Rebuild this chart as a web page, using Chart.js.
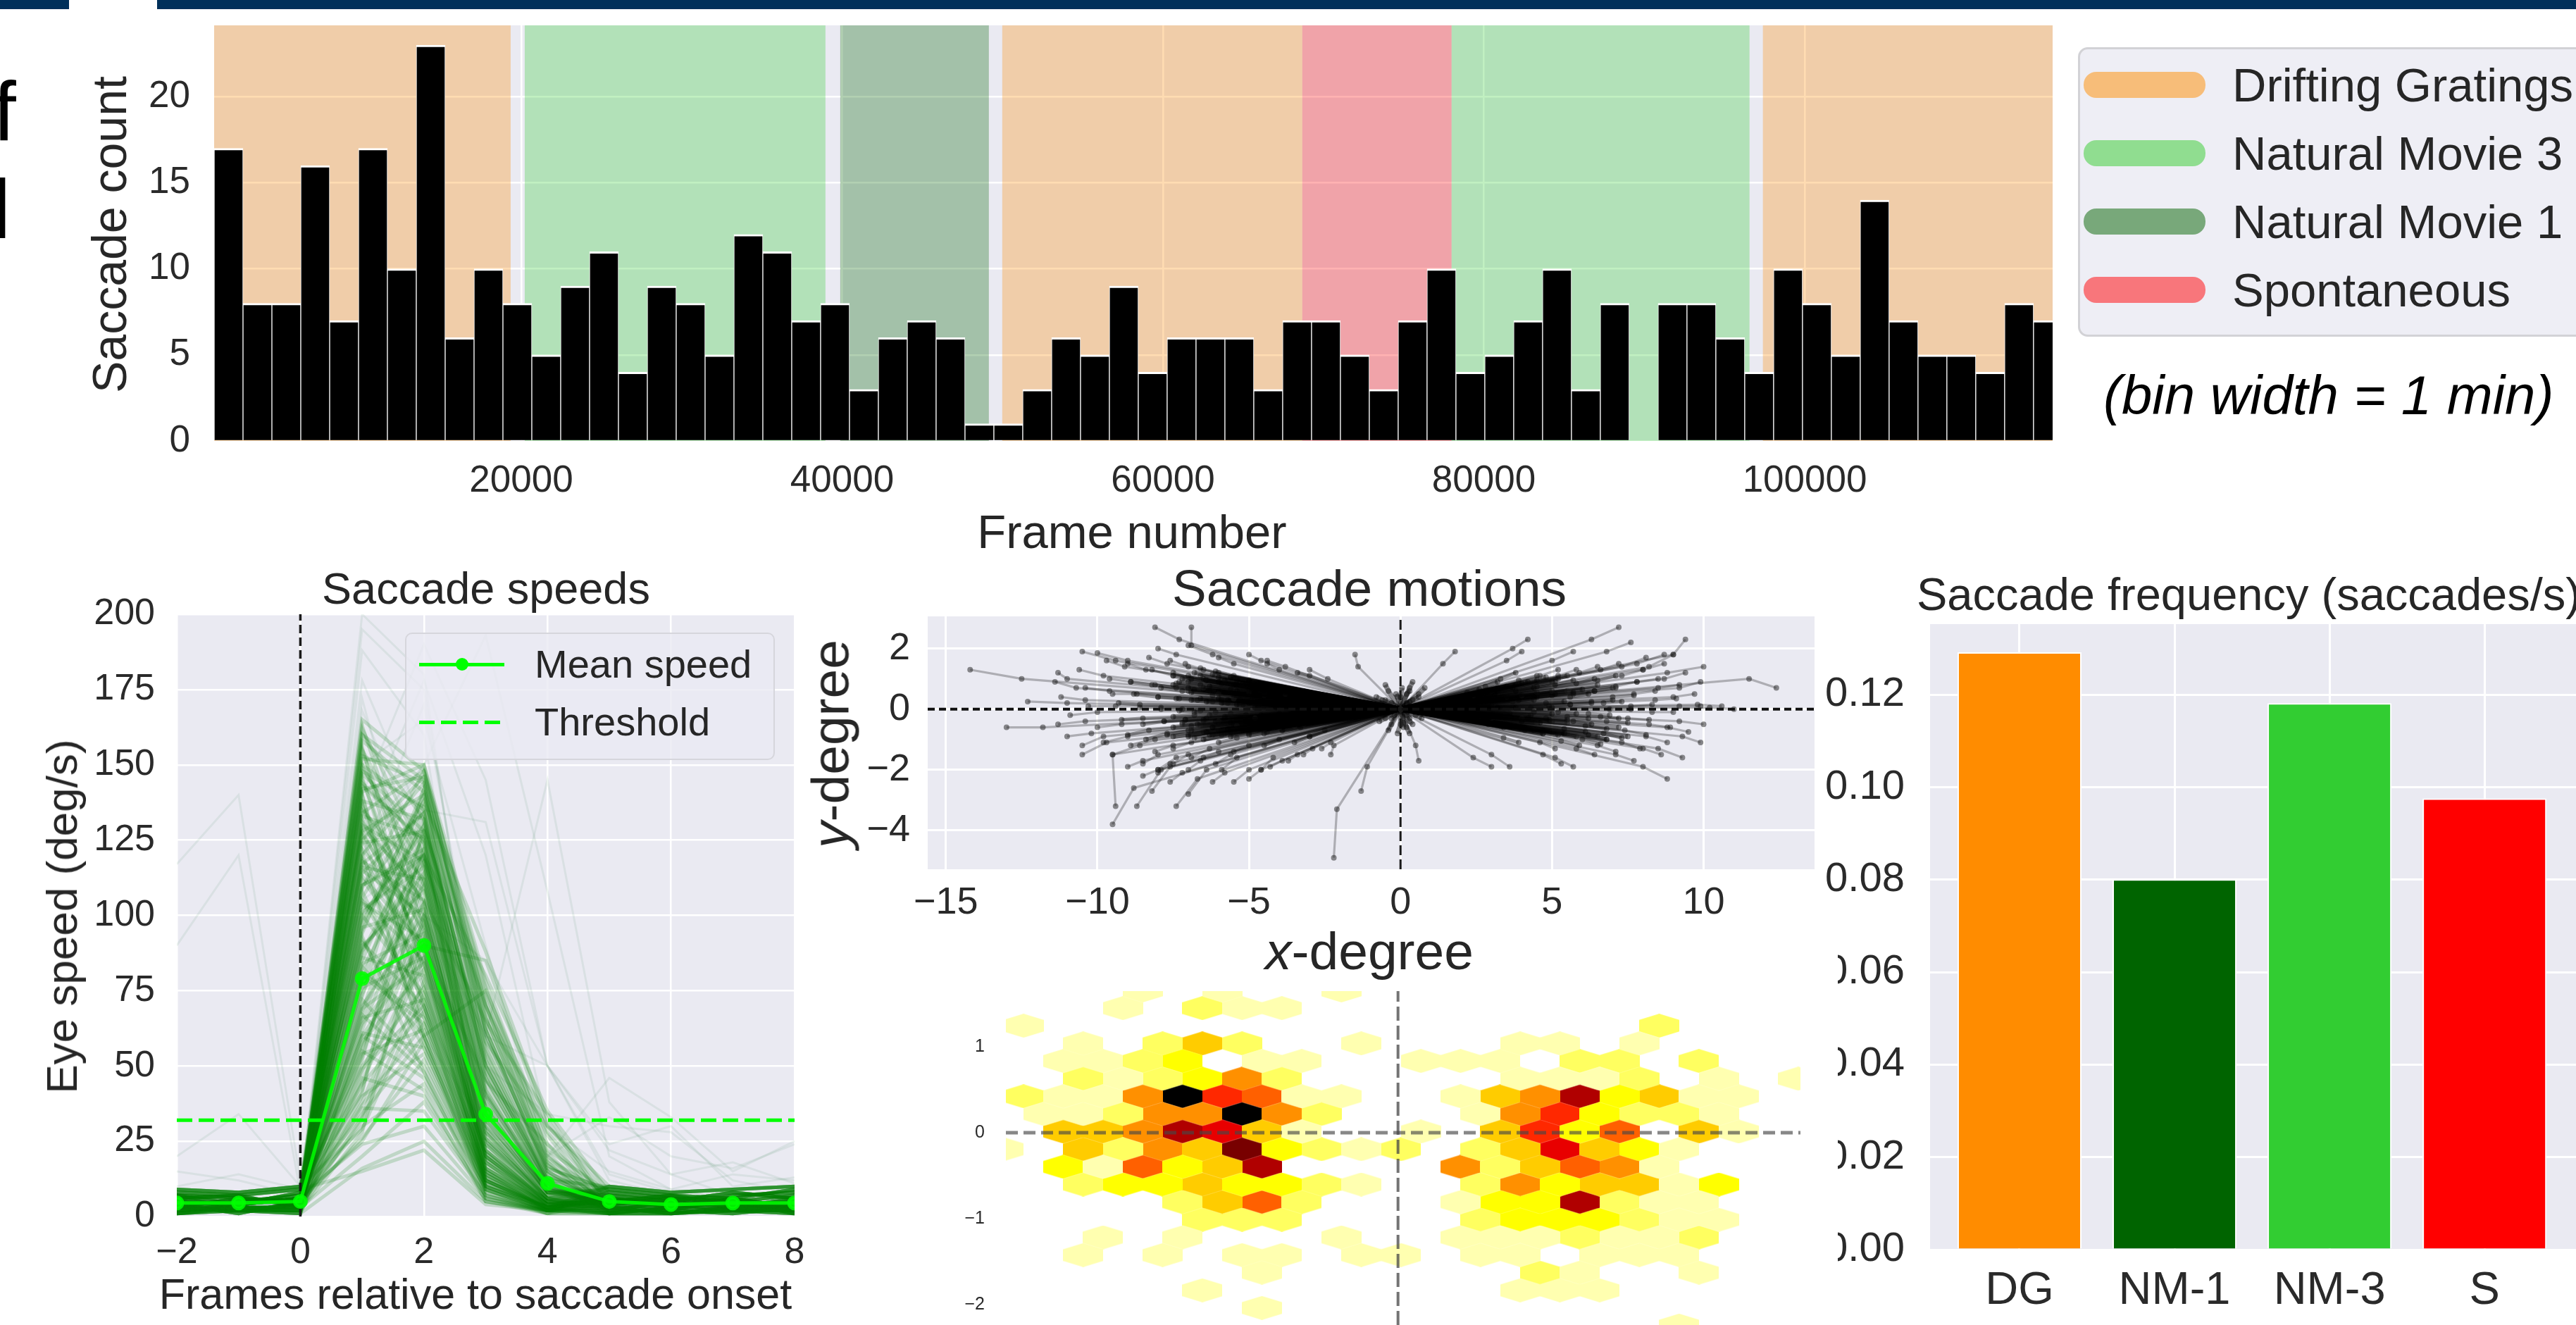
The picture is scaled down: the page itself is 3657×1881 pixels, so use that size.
<!DOCTYPE html>
<html><head><meta charset="utf-8">
<script src="https://cdn.jsdelivr.net/npm/chart.js@4"></script>
<style>
html,body{margin:0;padding:0;background:#fff;width:3657px;height:1881px;overflow:hidden;font-family:'Liberation Sans',Arial,sans-serif;color:#262626}
canvas{position:absolute;display:block}
.t{position:absolute;white-space:nowrap;line-height:1;transform:translate(-50%,-50%);z-index:5}
.r{transform:translate(-50%,-50%) rotate(-90deg)}
.l{position:absolute;white-space:nowrap;line-height:1;z-index:6}
.b{position:absolute;z-index:4}
</style></head><body>
<div class="b" style="left:0;top:0;width:98px;height:13px;background:#00305a"></div>
<div class="b" style="left:223px;top:0;width:3434px;height:13px;background:#00305a"></div>
<div class="l" style="left:-10px;top:99px;font-size:118px;color:#000">f</div>
<div class="l" style="left:-11px;top:238px;font-size:118px;color:#000">l</div>

<div class="t r" style="left:155px;top:333px;font-size:68px">Saccade count</div>
<div class="t" style="left:1607px;top:754px;font-size:67px">Frame number</div>
<div class="b" style="left:2950px;top:67px;width:740px;height:411px;background:#eeeef5;border:3px solid #d2d2d6;border-radius:14px;box-sizing:border-box"></div>
<div class="b" style="left:2958px;top:102px;width:173px;height:37px;border-radius:18px;background:#f7bd79;z-index:5"></div>
<div class="b" style="left:2958px;top:199px;width:173px;height:37px;border-radius:18px;background:#90dd90;z-index:5"></div>
<div class="b" style="left:2958px;top:296px;width:173px;height:37px;border-radius:18px;background:#78a87a;z-index:5"></div>
<div class="b" style="left:2958px;top:393px;width:173px;height:37px;border-radius:18px;background:#f8767b;z-index:5"></div>
<div class="l" style="left:3169px;top:87px;font-size:67px">Drifting Gratings</div>
<div class="l" style="left:3169px;top:184px;font-size:67px">Natural Movie 3</div>
<div class="l" style="left:3169px;top:281px;font-size:67px">Natural Movie 1</div>
<div class="l" style="left:3169px;top:378px;font-size:67px">Spontaneous</div>
<div class="l" style="left:2986px;top:522px;font-size:78px;font-style:italic;color:#000">(bin width = 1 min)</div>

<div class="t" style="left:690px;top:835px;font-size:63px">Saccade speeds</div>
<div class="t r" style="left:88px;top:1301px;font-size:62px">Eye speed (deg/s)</div>
<div class="t" style="left:675px;top:1837px;font-size:61px">Frames relative to saccade onset</div>
<div class="b" style="left:575px;top:898px;width:525px;height:181px;background:rgba(234,234,242,.8);border:2px solid #d6d6dc;border-radius:10px;box-sizing:border-box;z-index:5"></div>
<div class="b" style="left:595px;top:941px;width:121px;height:5px;background:#00ff00;z-index:6"></div>
<div class="b" style="left:647px;top:934px;width:18px;height:18px;border-radius:50%;background:#00ff00;z-index:6"></div>
<div class="b" style="left:595px;top:1023px;width:121px;height:5px;background:repeating-linear-gradient(90deg,#00ff00 0 22px,transparent 22px 31px);z-index:6"></div>
<div class="l" style="left:759px;top:915px;font-size:56px">Mean speed</div>
<div class="l" style="left:759px;top:997px;font-size:56px">Threshold</div>

<div class="t" style="left:1944px;top:834px;font-size:73px">Saccade motions</div>
<div class="t r" style="left:1179px;top:1056px;font-size:75px"><i>y</i>-degree</div>
<div class="t" style="left:1944px;top:1350px;font-size:75px"><i>x</i>-degree</div>

<div class="l" style="left:2721px;top:811px;font-size:65px">Saccade frequency (saccades/s)</div>
<div class="b" style="left:2556px;top:1340px;width:53px;height:541px;background:#fff;z-index:3"></div>

<canvas id="hist" style="left:170px;top:0" width="2820" height="730"></canvas>
<canvas id="speed" style="left:110px;top:840px" width="1060" height="970"></canvas>
<canvas id="motion" style="left:1200px;top:845px" width="1400" height="475"></canvas>
<canvas id="hex" style="left:1340px;top:1380px" width="1216" height="501"></canvas>
<canvas id="freq" style="left:2560px;top:860px;z-index:2" width="1097" height="1021"></canvas>

<script>
// ---------- data ----------
const binCounts=[17,8,8,16,7,17,10,23,6,10,8,5,9,11,4,9,8,5,12,11,7,8,3,6,7,6,1,1,3,6,5,9,4,6,6,6,3,7,7,5,3,7,10,4,5,7,10,3,8,0,8,8,6,4,10,8,5,14,7,5,5,4,8,7];
const firstBinEdge=860, binWidth=1800;
const histXTicks=[20000,40000,60000,80000,100000];
const bandStarts=[860,20219,39885,49982,68683,77989,97392];
const bandEnds=[19341,38963,49148,68683,77989,96558,116000];
const bandColors=['rgba(255,140,0,.3)','rgba(50,205,50,.3)','rgba(0,100,0,.3)','rgba(255,140,0,.3)','rgba(255,0,0,.3)','rgba(50,205,50,.3)','rgba(255,140,0,.3)'];

const frames=[-2,-1,0,1,2,3,4,5,6,7,8];
const meanSpeed=[4.5,4.5,5,79,90,34,11,5,4,4.5,4.5];
const thresholdSpeed=32;
// frames 1,2,3,4 of individual saccades (estimated from the fan of traces)
const burstSpeeds=[[165,148,62,14],[162,120,40,9],[158,141,55,12],[155,96,22,5],[152,150,70,20],[150,110,30,8],[148,136,48,11],[146,82,18,4],[144,124,38,9],[142,146,66,18],[140,70,14,4],[138,132,52,13],[136,104,26,6],[134,148,74,22],[132,88,20,5],[130,118,36,8],[128,140,58,15],[126,76,16,4],[124,128,44,10],[122,98,24,6],[120,144,68,17],[118,60,12,3],[116,112,32,7],[114,134,50,12],[112,84,19,5],[110,122,42,9],[108,66,13,3],[106,138,60,16],[104,92,22,5],[102,116,34,8],[100,74,16,4],[98,130,54,13],[96,102,25,6],[94,142,72,19],[92,56,11,3],[90,108,30,7],[88,126,46,10],[86,80,18,4],[84,94,22,5],[82,120,40,9],[80,64,12,3],[78,136,62,15],[76,86,20,5],[74,110,32,7],[72,50,10,3],[70,100,26,6],[68,128,50,12],[66,72,15,4],[64,90,21,5],[62,114,36,8],[60,46,9,2],[58,82,18,4],[56,104,28,6],[54,62,12,3],[52,124,48,11],[50,76,16,4],[48,96,24,5],[46,40,8,2],[44,68,14,3],[42,112,34,8],[40,54,10,3],[38,86,20,4],[36,35,7,2],[34,60,12,3],[32,78,17,4],[30,44,9,2],[28,100,28,6],[26,52,10,3],[24,30,6,2],[20,38,7,2],[16,25,5,2],[15,22,4,2],
[163,100,28,6],[160,132,46,10],[156,78,15,3],[153,144,64,16],[149,116,34,8],[145,92,21,5],[141,150,78,24],[137,68,13,3],[133,126,42,9],[129,108,29,6],[125,146,70,18],[121,58,11,3],[117,134,56,14],[113,90,20,4],[109,148,76,21],[105,72,14,3],[101,120,38,8],[97,140,62,15],[93,48,9,2],[89,114,32,7],[85,132,52,12],[81,66,13,3],[77,104,26,6],[73,142,66,17],[69,84,19,4],[65,122,41,9],[61,56,10,2],[57,98,24,5],[53,118,36,8],[49,70,15,3],[45,88,20,4],[41,130,50,11],[37,64,12,3],[33,92,22,5],[29,74,16,3],[25,58,11,2],
[128,90,85,30],[110,120,80,35],[95,138,88,32],[140,60,75,28],[118,105,65,34],[88,118,58,30],[100,128,70,27],[60,90,45,24],[155,118,12,2],[147,128,10,2],[135,112,9,2],[127,95,8,1],[115,100,10,2],[105,85,7,1],[91,70,6,1],[83,60,6,2],[67,48,5,1],[55,42,5,2],[160,145,15,2],[150,135,18,3],[143,125,14,2],[131,105,12,2],[119,88,9,1]];
// frames -2,-1,0 and frames 5,6,7,8
const quietBefore=[[3,2,4],[5,4,6],[2,3,2],[7,6,5],[4,5,7],[6,3,3],[1,2,1],[8,7,9],[3,6,4],[5,2,2],[9,8,10],[2,4,6],[6,7,3],[4,1,5],[1,3,3],[7,4,8]];
const quietAfter=[[4,3,5,2],[2,5,3,6],[6,4,2,4],[3,2,6,3],[8,6,5,7],[1,3,2,1],[5,7,4,5],[3,1,3,4],[7,5,8,6],[2,2,1,3],[9,7,6,9],[4,6,3,2],[6,3,7,8],[1,1,2,2],[5,4,5,1],[10,8,9,10]];
// rare outlying traces, all frames
const oddSpeedTraces=[[90,120,8,40,60,30,10,4,5,3,4],[117,140,12,60,80,40,12,6,4,5,3],[20,34,10,50,70,25,8,5,4,3,2],[15,12,7,70,90,30,6,3,4,2,5],[4,3,5,120,150,60,20,46,33,15,25],[5,4,6,100,120,50,34,30,28,12,8],[3,5,4,90,110,45,20,33,20,16,24],[6,5,4,70,100,85,50,24,30,10,13],[4,4,5,130,100,60,50,22,14,18,11],[10,14,9,110,130,70,30,15,9,14,12],[5,4,6,178,130,60,15,6,4,3,5],[3,6,4,172,95,25,6,4,3,5,2],[4,5,3,168,120,45,11,5,3,4,6],[6,3,5,195,175,50,12,6,4,3,2],[2,4,6,200,180,40,8,3,5,4,3],[7,5,4,188,160,35,9,5,6,2,4],[3,4,5,120,170,60,10,4,3,5,6],[4,6,5,150,165,90,20,7,5,3,4],[5,3,6,130,178,120,30,9,6,4,5],[4,2,5,140,190,145,50,12,7,5,3],[6,5,3,125,150,193,108,20,9,6,4],[3,5,6,110,135,131,50,14,8,4,3],[5,6,4,105,120,60,145,38,14,7,5]];

const originX=[0],originY=[0];
// each row: point reached, then final point of a saccade path starting near the origin (degrees)
const motionLeft=[[-12.5,1,-14.2,1.3],[-11.8,-.6,-13,-.6],[-11,.2,-12.3,.25],[-10.4,-.4,-11.3,-.5],[-9.4,1.6,-10.5,1.9],[-9,1.6,-10,1.85],[-7.3,2.3,-8.1,2.7],[-6.9,2.1,-6.9,2.7],[-6.2,1.8,-7,2.1],[-2.1,-3.3,-2.2,-4.9],[-8.8,-2.6,-9.5,-3.8],[-9.5,-1.5,-9.4,-3.2],[-7.9,-2,-8.7,-3.2],[-6.7,-2.3,-7.4,-3.2],[-5,-2,-5.5,-2.4],[-7.6,-1.9,-8.2,-2.7],[-6.4,-2,-7,-2.8],[-9.7,-1.1,-10.5,-1.5],[-9.8,-.9,-10.5,-1.2],[-8.6,-1.2,-9.5,-1.5],[-1.1,-1.9,-1.3,-2.7],[-7.4,-1.6,-8,-2],[-5.4,-1.6,-5.9,-2],[-4.2,-1.6,-4.6,-2],[-2.2,-1.2,-2.3,-1.5],[-1.4,1.4,-1.5,1.8],[-3.8,1.4,-4.4,1.6],[-2.4,1,-3,1.3],
[-8,-2,-8.5,-2.2],[-7.2,-2.1,-7.6,-2.4],[-5.8,-2.1,-6.2,-2.4],[-4.6,-2,-5,-2.3],[-3.9,-1.7,-4.3,-1.9],[-3.4,-1.5,-3.7,-1.7],[-2.9,-1.3,-3.2,-1.5],[-2.3,-1.1,-2.6,-1.3],[-8.5,-1.7,-9,-1.9],[-4.6,1.6,-5,1.8],[-4,1.3,-4.4,1.5],[-7.4,1.8,-8,2],[-5.5,1.5,-6,1.7],[-3,1.1,-3.4,1.2],
[-11,1,-11.3,1.2],[-10.7,.7,-11.4,.9],[-10.4,.3,-11.2,.4],[-10,-.1,-10.9,-.2],[-10.2,-.8,-11,-.9],[-9.8,1.1,-10.6,1.3],[-9.6,.6,-10.4,.7],[-9.4,.1,-10.3,.1],[-9.2,-.5,-10,-.6],[-9,-.9,-9.8,-1.1],[-9.1,1.4,-9.7,1.6],[-8.9,.9,-9.6,1],[-8.7,.5,-9.5,.5],[-8.6,.15,-9.3,.2],[-8.5,-.3,-9.2,-.35],[-8.3,-.7,-9,-.85],[-8.1,-1,-8.9,-1.2],[-8.4,1.3,-9,1.5],[-8.2,.8,-8.9,.9],[-8,.4,-8.8,.5],[-7.9,.05,-8.6,.05],[-7.8,-.4,-8.5,-.5],[-7.7,-.8,-8.4,-1],[-7.5,-1.2,-8.1,-1.4],[-7.7,1.5,-8.3,1.7],[-7.5,1.1,-8.2,1.3],[-7.4,.7,-8.1,.8],[-7.3,.35,-8,.4],[-7.2,0,-7.9,0],[-7.1,-.35,-7.8,-.4],[-7,-.7,-7.7,-.85],[-6.9,-1.1,-7.5,-1.3],[-7,1.4,-7.6,1.6],[-6.9,1,-7.5,1.2],[-6.8,.65,-7.5,.8],[-6.7,.3,-7.4,.35],[-6.6,-.05,-7.3,-.05],[-6.5,-.4,-7.2,-.45],[-6.4,-.75,-7,-.9],[-6.3,-1.3,-6.9,-1.6],[-6.5,1.3,-7.1,1.5],[-6.4,.95,-7,1.1],[-6.3,.6,-7,.7],[-6.2,.25,-6.9,.3],[-6.1,-.1,-6.8,-.1],[-6,-.45,-6.7,-.5],[-5.9,-.85,-6.5,-1],[-6,1.2,-6.6,1.35],[-5.9,.85,-6.5,1],[-5.8,.55,-6.5,.65],[-5.7,.2,-6.4,.25],[-5.6,-.15,-6.3,-.2],[-5.5,-.5,-6.2,-.6],[-5.4,-.95,-6,-1.1],[-5.5,1.1,-6.1,1.25],[-5.4,.8,-6,.9],[-5.3,.5,-6,.6],[-5.2,.15,-5.9,.2],[-5.1,-.2,-5.8,-.25],[-5,-.55,-5.7,-.65],[-5,.95,-5.6,1.05],[-4.9,.7,-5.5,.8],[-4.8,.4,-5.5,.45],[-4.7,.1,-5.4,.15],[-4.6,-.25,-5.3,-.3],[-4.5,-.6,-5.2,-.7],[-4.4,.8,-5,.9],[-4.3,.55,-5,.65],[-4.2,.3,-4.9,.35],[-4.1,.05,-4.8,.05],[-4,-.25,-4.7,-.3],[-3.9,-.55,-4.5,-.65],[-3.8,.6,-4.4,.7],[-3.7,.35,-4.3,.4],[-3.6,.1,-4.2,.15],[-3.5,-.2,-4.1,-.25],[-3.4,-.45,-4,-.55],[-3.2,.45,-3.8,.5],[-3.1,.2,-3.7,.25],[-3,-.05,-3.6,-.05],[-2.9,-.3,-3.5,-.35],[-2.7,.3,-3.2,.35],[-2.6,.05,-3.1,.1],[-2.5,-.2,-3,-.25],[-2.3,.2,-2.7,.25],[-2.1,-.1,-2.5,-.15],[-1.9,.15,-2.3,.2],[-1.7,-.1,-2.1,-.1],[-1.5,.1,-1.8,.1],[-1.2,-.05,-1.5,-.1],[-1,.1,-1.3,.1],[-.8,-.1,-1,-.1],
[-7.2,.6,-7.9,.7],[-6.6,.8,-7.3,.9],[-6.2,.45,-6.9,.55],[-5.9,.3,-6.6,.35],[-5.6,.65,-6.3,.75],[-5.3,.3,-6,.35],[-5,.25,-5.7,.3],[-4.8,.55,-5.4,.6],[-4.5,.2,-5.2,.25],[-4.3,.15,-5,.2],[-6.8,-.2,-7.5,-.25],[-6.4,-.3,-7.1,-.35],[-5.8,-.3,-6.5,-.35],[-5.4,-.35,-6.1,-.4],[-4.9,-.4,-5.6,-.45],[-4.4,-.35,-5.1,-.4],[-4,-.15,-4.6,-.2],[-3.6,-.3,-4.2,-.35],[-6.9,-.55,-7.5,-.6],[-6.2,-.6,-6.9,-.7],[-5.6,-.75,-6.3,-.85],[-5,-.8,-5.6,-.9],[-4.4,-.75,-5,-.85],[-3.9,-.7,-4.5,-.8],[-3.3,-.6,-3.9,-.7],[-8,-1.5,-8.5,-1.8],[-7,-1.5,-7.5,-1.8],[-6,-1.4,-6.5,-1.6],[-5,-1.2,-5.5,-1.4],[-4,-1,-4.5,-1.2],[-3,-.9,-3.5,-1.1],[-2.5,-.7,-3,-.9],[-7.6,-1.8,-8,-2.1],[-6.6,-1.7,-7,-2],[-5.6,-1.5,-6.1,-1.8]];
const motionRight=[[6.3,2.3,7.2,2.7],[6.8,1.9,7.6,2.2],[9,1.8,9.4,2.3],[8.2,1.4,9,1.8],[8.8,1.2,10,1.4],[11.5,1,12.4,.7],[3.7,2,4.2,2.3],[3.5,1.6,4,1.9],[1.4,1.5,1.8,1.9],[5,1.6,5.7,1.9],[7.3,1.4,8.1,1.7],[7.8,1.5,8.7,1.8],[8,-1.9,8.8,-2.3],[8.5,-1.3,9.3,-1.6],[5.1,-1.6,5.7,-1.9],[4.7,-1.5,5.3,-1.8],[2.4,-1.6,3,-1.9],[3,-1.5,3.6,-1.9],[.5,-1.2,.6,-1.7],[9.2,-.4,10,-.5],[9.8,.15,10.6,.1],[10.2,.05,11,0],[9.2,.7,9.9,.9],[9.3,-.9,9.9,-1.1],[9,.4,9.7,.5],[9.2,.1,9.9,.1],[8.8,-.6,9.5,-.75],[8.7,1,9.4,1.2],[8.5,.7,9.2,.8],[8.4,.3,9.1,.35],[8.3,-.1,9,-.1],[8.2,-.5,8.9,-.6],[8.1,-.9,8.8,-1.1],[8,-1.3,8.6,-1.5],[8,1.3,8.7,1.5],[7.8,.9,8.5,1],[7.7,.5,8.4,.6],[7.6,.1,8.3,.15],[7.5,-.3,8.2,-.35],[7.4,-.7,8.1,-.85],[7.3,-1.1,7.9,-1.3],[7.1,-1.5,7.7,-1.7],[7.3,1.1,8,1.3],[7.1,.75,7.8,.9],[7,.4,7.7,.45],[6.9,0,7.6,0],[6.8,-.4,7.5,-.45],[6.7,-.8,7.3,-.95],[6.5,-1.2,7.1,-1.4],[6.6,1.3,7.2,1.5],[6.5,.95,7.1,1.1],[6.4,.6,7.1,.7],[6.3,.25,7,.3],[6.2,-.15,6.9,-.2],[6.1,-.55,6.8,-.65],[6,-1,6.6,-1.15],[5.8,-1.3,6.4,-1.5],[5.9,1.2,6.5,1.4],[5.8,.85,6.4,1],[5.7,.5,6.4,.6],[5.6,.15,6.3,.2],[5.5,-.25,6.2,-.3],[5.4,-.65,6.1,-.75],[5.3,-1.05,5.9,-1.2],[5.2,1.1,5.8,1.3],[5.1,.8,5.7,.95],[5,.45,5.7,.55],[4.9,.1,5.6,.15],[4.8,-.3,5.5,-.35],[4.7,-.7,5.4,-.8],[4.6,-1.1,5.1,-1.3],[4.6,1.1,5.2,1.3],[4.5,.75,5.1,.9],[4.4,.4,5.1,.5],[4.3,.05,5,.05],[4.2,-.3,4.9,-.35],[4.1,-.7,4.7,-.8],[3.9,.95,4.5,1.1],[3.8,.6,4.4,.7],[3.7,.25,4.4,.3],[3.6,-.15,4.3,-.2],[3.5,-.5,4.1,-.6],[3.4,-.95,3.9,-1.1],[3.3,1,3.8,1.2],[3.2,.6,3.7,.7],[3.1,.25,3.6,.3],[3,-.1,3.6,-.15],[2.9,-.5,3.4,-.6],[2.8,.75,3.2,.9],[2.6,.4,3.1,.5],[2.5,.05,3,.1],[2.4,-.3,2.9,-.35],[2.2,.55,2.6,.65],[2.1,.2,2.5,.25],[2,-.15,2.4,-.2],[1.8,.35,2.2,.45],[1.6,.05,2,.05],[1.5,-.2,1.8,-.25],[1.2,.2,1.5,.25],[1.1,-.1,1.4,-.1],[.9,.15,1.1,.2],[.7,-.1,.9,-.15],[.6,.5,.8,.7],[.3,.7,.4,.9],[.2,-.6,.3,-.8],[4.8,.2,5.4,.25],[5.2,-.1,5.8,-.15],[5.6,.4,6.2,.5],[4.4,-.1,5,-.15],[3.9,.3,4.5,.4],[4,-.4,4.6,-.45],[3.2,.05,3.8,.05],[2.8,-.2,3.3,-.25],[5.7,-.4,6.3,-.5],[6.2,-.85,6.8,-1],[6.7,.2,7.3,.25],[6.6,-.25,7.2,-.3]];
const motionCore=[[-.6,.3,-.8,.4],[-.5,-.3,-.7,-.4],[-.4,.6,-.5,.8],[-.3,-.5,-.4,-.7],[.4,.3,.6,.4],[.3,-.4,.4,-.5],[.2,.5,.3,.6],[.5,-.2,.7,-.3],[-.3,.2,-.5,.3],[-.2,-.2,-.3,-.3],[.2,.2,.3,.25],[.2,-.2,.3,-.3],[-.1,.4,-.15,.5],[.1,-.45,.1,-.6],[0,-.5,-.1,-.8],[0,.4,.05,.7]];
// straight saccades that make up the dense body of the two lobes: end point only
const motionDense=[[-7.5,1.1],[-7.2,1],[-7,.9],[-6.8,1.2],[-6.6,1.1],[-6.4,.95],[-6.2,1.15],[-6,1.05],[-5.8,.95],[-5.6,1.05],[-5.4,.95],[-5.2,.85],[-5,.8],[-4.8,.9],[-4.6,.85],[-4.4,.7],[-4.2,.75],[-4,.7],[-3.8,.5],[-3.6,.6],[-3.4,.55],[-3.2,.6],[-3,.5],[-2.8,.45],[-2.6,.45],[-2.4,.4],[-7.4,.85],[-7,.6],[-6.5,.7],[-6,.5],[-5.5,.35],[-5,.55],[-4.5,.45],
[-7.5,-.9],[-7,-.85],[-6.8,-.95],[-6.5,-.75],[-6.2,-.85],[-6,-.7],[-5.8,-.8],[-5.5,-.75],[-5.2,-.7],[-5,-.65],[-4.8,-.7],[-4.5,-.65],[-4.2,-.6],[-4,-.6],[-3.7,-.5],[-3.5,-.55],[-3.2,-.5],[-3,-.4],[-2.7,-.4],[-2.4,-.35],[-7.2,-.5],[-6.6,-.55],[-6,-.4],[-5.4,-.55],[-4.8,-.3],
[5.5,1.1],[5.2,1],[5,.9],[4.8,1.05],[4.5,.95],[4.2,.9],[4,.85],[3.8,.8],[3.5,.75],[3.2,.7],[3,.6],[2.7,.55],[2.4,.45],[5.5,.6],[5,.6],[4.5,.55],[4,.45],[3.5,.4],[5.8,-.9],[5.5,-.8],[5.2,-.85],[5,-.75],[4.7,-.8],[4.4,-.7],[4,-.65],[3.7,-.6],[3.3,-.55],[3,-.45],[2.6,-.4],[5.5,-.45],[5,-.4],[4.5,-.45],[4,-.3],[6.5,-.9],[6.8,-1],[7,.7],[6.5,.8],[6,.65],[7.2,-.6],[7.5,-.9]];

const freqLabels=['DG','NM-1','NM-3','S'];
const freqValues=[.1292,.0801,.1182,.0976];
const freqColors=['#ff8c00','#006400','#32cd32','#ff0000'];

const hexColors=['','#ffffb0','#ffff60','#ffff00','#ffcc00','#ff9000','#ff6000','#ff2800','#e80000','#b00000','#780000','#000000'];
const hexRowY=[1.658,1.452,1.247,1.041,.836,.63,.425,.219,.014,-.192,-.397,-.603,-.808,-1.014,-1.219,-1.425,-1.63,-1.836,-2.041,-2.247];
// bin level per column, '.' = empty, a=10, b=11; odd rows are shifted half a column
const hexRowLevels=["...1.1..1","...1.211","1...............2","..1.242..1...11.1",".1123.11..111.22.2","..212352.....1112.1.1","2115b7611..14593411",".11255b52...1573221",".4459841..1.4736.41","1.4254a3212.248431",".316349....524651","..23343321..2534413","....2462...1339211",".....222....2333211","..1.1...1..1112112","..1.1.11.11.11.111","......1......21..1",".....1.......111","......1",".................1"];
const hexColumnA=-18.85, hexColumnB=-19.85;

// ---------- layout and helpers ----------
const FONT='Liberation Sans', INK='#2a2a2a', PANEL='#eaeaf2';
Chart.defaults.font.family=FONT;
Chart.defaults.animation=false;
Chart.defaults.responsive=false;
Chart.defaults.devicePixelRatio=1;
Chart.defaults.events=[];
Chart.defaults.layout.autoPadding=false;
Chart.defaults.plugins.legend.display=false;
Chart.defaults.plugins.tooltip.enabled=false;

const panelPlugin={id:'panel',beforeDraw(c,a,o){if(!o.color)return;const p=c.chartArea;c.ctx.save();c.ctx.fillStyle=o.color;c.ctx.fillRect(p.left,p.top,p.width,p.height);c.ctx.restore();}};
const bandPlugin={id:'bands',beforeDatasetsDraw(c,a,o){if(!o.starts)return;const p=c.chartArea,x=c.scales.x,g=c.ctx;g.save();g.beginPath();g.rect(p.left,p.top,p.width,p.height);g.clip();o.starts.forEach((s,i)=>{const l=x.getPixelForValue(s),r=x.getPixelForValue(o.ends[i]);g.fillStyle=o.colors[i];g.fillRect(l,p.top,r-l,p.height);});g.restore();}};
Chart.register(panelPlugin,bandPlugin);

const minus=v=>String(v).replace('-','\u2212');
const noOverhang=s=>{s.paddingTop=0;s.paddingBottom=0;s.paddingLeft=0;s.paddingRight=0;};
function xAxis(h,o){return {type:'linear',min:o.min,max:o.max,offset:false,afterFit:s=>{s.height=h;noOverhang(s)},afterBuildTicks:o.list?(s=>{s.ticks=o.list.map(v=>({value:v}))}):undefined,border:{display:false},
  grid:{color:'#fff',lineWidth:o.gw||2.5,drawTicks:false,offset:false},
  ticks:{color:INK,font:{size:o.size},padding:o.pad,maxRotation:0,autoSkip:false,includeBounds:false,stepSize:o.step,callback:o.cb||minus}};}
function yAxis(w,o){return {type:'linear',min:o.min,max:o.max,afterFit:s=>{s.width=w;noOverhang(s)},border:{display:false},
  grid:{color:'#fff',lineWidth:o.gw||2.5,drawTicks:false},
  ticks:{color:INK,font:{size:o.size},padding:o.pad,autoSkip:false,includeBounds:false,stepSize:o.step,callback:o.cb||minus}};}

// ---------- top histogram ----------
new Chart(document.getElementById('hist'),{type:'bar',
 data:{datasets:[{data:binCounts.map((n,i)=>({x:firstBinEdge+binWidth*(i+.5),y:n})),backgroundColor:'#000',borderColor:'#fff',borderWidth:{top:3,left:1,right:1,bottom:0},barPercentage:1,categoryPercentage:1}]},
 options:{layout:{padding:{top:36,right:76}},
  plugins:{panel:{color:PANEL},bands:{starts:bandStarts,ends:bandEnds,colors:bandColors}},
  scales:{x:xAxis(104,{min:860,max:115452,size:53,pad:26,list:histXTicks,cb:v=>String(v)}),y:yAxis(134,{min:0,max:24.15,size:53,pad:34,step:5})}}});

// ---------- saccade speeds ----------
const pairs=(ys)=>ys.map((y,i)=>({x:frames[i],y}));
const speedTraces=burstSpeeds.map((b,i)=>[...quietBefore[i%quietBefore.length],...b,...quietAfter[(i*5+3)%quietAfter.length]]);
new Chart(document.getElementById('speed'),{type:'scatter',
 data:{datasets:[
  {data:pairs(meanSpeed),showLine:true,borderColor:'rgba(0,255,0,.85)',backgroundColor:'rgba(0,255,0,.85)',borderWidth:5,pointRadius:8},
  {data:[{x:-2,y:thresholdSpeed},{x:8,y:thresholdSpeed}],showLine:true,borderColor:'#00ff00',borderWidth:5,borderDash:[22,9],pointRadius:0},
  {data:[{x:0,y:0},{x:0,y:200}],showLine:true,borderColor:'#1a1a1a',borderWidth:3.5,borderDash:[12,6],pointRadius:0},
  ...speedTraces.map(t=>({data:pairs(t),showLine:true,borderColor:'rgba(0,128,0,.18)',borderWidth:5,pointRadius:0})),
  ...oddSpeedTraces.map(t=>({data:pairs(t),showLine:true,borderColor:'rgba(30,110,50,.08)',borderWidth:3,pointRadius:0}))]},
 options:{layout:{padding:{top:32,right:42}},plugins:{panel:{color:PANEL}},
  scales:{x:xAxis(83,{min:-2,max:8,size:52,pad:20,step:2}),y:yAxis(141,{min:0,max:200,size:52,pad:31,step:25})}}});

// ---------- saccade motions ----------
const motionRows=[...motionLeft,...motionRight,...motionCore];
const motionPaths=motionRows.map(r=>[{x:originX[0],y:originY[0]},{x:r[0],y:r[1]},{x:r[2],y:r[3]}]);
const densePaths=motionDense.map(r=>[{x:originX[0],y:originY[0]},{x:r[0],y:r[1]}]);
// lines get heavier towards the middle of each lobe, where the original traces pile up
const lobeTier=r=>{const x=Math.abs(r[2]),y=Math.abs(r[3]),inner=r[2]<0?7.6:5.6,outer=r[2]<0?9.4:7.8;
  if(y>=1.3)return 0; if(x<inner&&y<1.1)return 2; return x<outer?1:0;};
const tierWidth=[3.2,5,7], tierColor=['rgba(0,0,0,.26)','rgba(0,0,0,.34)','rgba(0,0,0,.42)'];
new Chart(document.getElementById('motion'),{type:'scatter',
 data:{datasets:[
  {data:[{x:0,y:-5.28},{x:0,y:3.06}],showLine:true,borderColor:'#1a1a1a',borderWidth:3,borderDash:[14,6],pointRadius:0},
  {data:[{x:-15.6,y:0},{x:13.66,y:0}],showLine:true,borderColor:'#111',borderWidth:4,borderDash:[10,6],pointRadius:0},
  ...densePaths.map(p=>({data:p,showLine:true,borderColor:tierColor[2],backgroundColor:'rgba(30,30,30,.5)',borderWidth:tierWidth[2],pointRadius:4,pointBorderWidth:0})),
  ...motionPaths.map((p,i)=>{const t=lobeTier(motionRows[i]);return {data:p,showLine:true,borderColor:tierColor[t],backgroundColor:'rgba(30,30,30,.5)',borderWidth:tierWidth[t],pointRadius:4,pointBorderWidth:0};})]},
 options:{layout:{padding:{top:30,right:24}},plugins:{panel:{color:PANEL}},
  scales:{x:xAxis(86,{min:-15.6,max:13.66,size:54,pad:16,step:5,gw:3}),y:yAxis(117,{min:-5.28,max:3.06,size:54,pad:25,step:2,gw:3})}}});

// ---------- hexbin ----------
function hexImage(color){const w=57,h=34,c=document.createElement('canvas');c.width=w;c.height=h;const g=c.getContext('2d');g.fillStyle=color;g.beginPath();g.moveTo(w/2,0);g.lineTo(w,h*.26);g.lineTo(w,h*.74);g.lineTo(w/2,h);g.lineTo(0,h*.74);g.lineTo(0,h*.26);g.closePath();g.fill();return c;}
const hexData=hexColors.map(()=>[]);
hexRowLevels.forEach((row,r)=>{[...row].forEach((ch,k)=>{if(ch==='.')return;hexData[parseInt(ch,16)].push({x:(r%2?hexColumnB:hexColumnA)+2*k,y:hexRowY[r]});});});
new Chart(document.getElementById('hex'),{type:'scatter',
 data:{datasets:[
  {data:[{x:-19.74,y:0},{x:20.26,y:0}],showLine:true,borderColor:'rgba(70,70,70,.65)',borderWidth:5,borderDash:[17,8],pointRadius:0},
  {data:[{x:0,y:-2.24},{x:0,y:1.65}],showLine:true,borderColor:'rgba(70,70,70,.75)',borderWidth:4,borderDash:[20,7],pointRadius:0},
  ...hexColors.map((c,i)=>i?{data:hexData[i],pointStyle:hexImage(c),pointRadius:30}:{data:[]})]},
 options:{layout:{padding:{top:27}},
  scales:{x:{type:'linear',display:false,min:-19.74,max:20.26,afterFit:noOverhang},
   y:Object.assign(yAxis(88,{min:-2.24,max:1.65,size:25,pad:22,step:1}),{grid:{display:false}})}}});

// ---------- saccade frequency ----------
new Chart(document.getElementById('freq'),{type:'bar',
 data:{datasets:[{data:freqValues.map((v,i)=>({x:i,y:v})),backgroundColor:freqColors,borderColor:'#fff',borderWidth:2,barPercentage:.8,categoryPercentage:1}]},
 options:{layout:{padding:{top:26,right:0}},plugins:{panel:{color:PANEL}},
  scales:{x:xAxis(107,{min:-.577,max:3.59,size:65,pad:20,step:1,gw:3,cb:v=>freqLabels[v]}),y:yAxis(180,{min:0,max:.1353,size:58,pad:36,step:.02,gw:3,cb:v=>v.toFixed(2)})}}});
</script>
</body></html>
